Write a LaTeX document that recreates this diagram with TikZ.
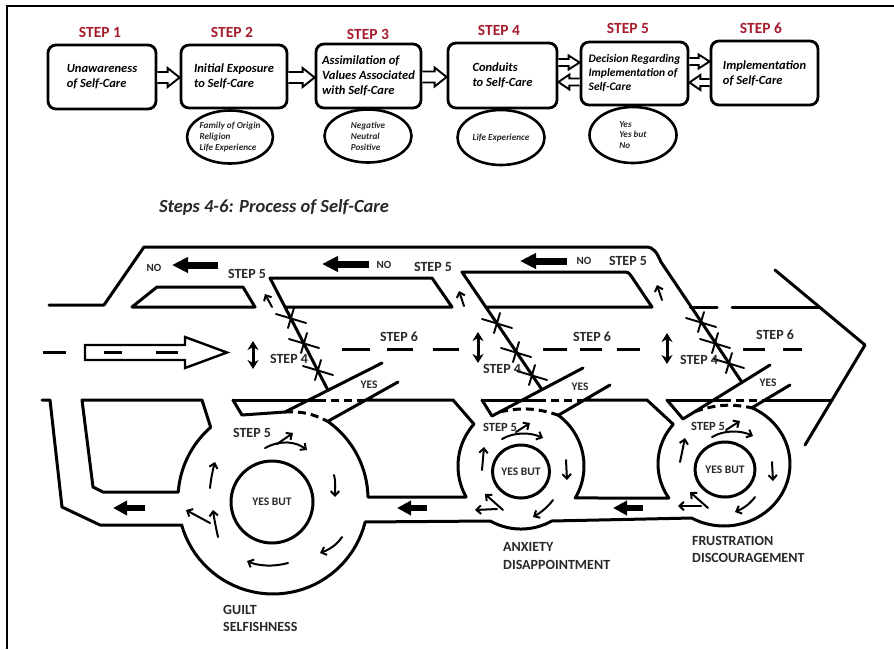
\documentclass[tikz,border=0pt]{standalone}
\usepackage{fontspec}
\setmainfont{Carlito}
\usetikzlibrary{arrows.meta,shapes.geometric,calc}
\definecolor{stepred}{RGB}{165,28,45}
\definecolor{ink}{RGB}{40,40,40}
\newcommand\harrR[6]{%
  \path (perpendicular cs: horizontal line through={(0,#3)}, vertical line through={(#1.east)}) coordinate (ha)
        (perpendicular cs: horizontal line through={(0,#3)}, vertical line through={(#2.west)}) coordinate (hb);
  \draw[hollow] ($(ha)+(0,-#4)$) -- ($(hb)+(-#6,-#4)$) -- ($(hb)+(-#6,-#5)$) -- (hb) -- ($(hb)+(-#6,#5)$) -- ($(hb)+(-#6,#4)$) -- ($(ha)+(0,#4)$);}
\newcommand\harrL[6]{%
  \path (perpendicular cs: horizontal line through={(0,#3)}, vertical line through={(#1.west)}) coordinate (ha)
        (perpendicular cs: horizontal line through={(0,#3)}, vertical line through={(#2.east)}) coordinate (hb);
  \draw[hollow] ($(ha)+(0,-#4)$) -- ($(hb)+(#6,-#4)$) -- ($(hb)+(#6,-#5)$) -- (hb) -- ($(hb)+(#6,#5)$) -- ($(hb)+(#6,#4)$) -- ($(ha)+(0,#4)$);}
\newcommand\xmk[2]{\draw[xm] (#1,#2) ++(-15,-4) -- ++(30,9) (#1,#2) ++(3,-10) -- ++(-6,20);}
\begin{document}
\begin{tikzpicture}[x=1pt,y=-1pt,
  box/.style={draw,line width=2.8pt,rounded corners=8pt,align=left,inner sep=0pt,font=\bfseries\itshape\fontsize{12.5}{15}\selectfont},
  ell/.style={draw,ellipse,line width=2.6pt,inner sep=0pt,align=left,font=\bfseries\itshape\fontsize{9.2}{10.8}\selectfont,text=ink},
  steplbl/.style={text=stepred,font=\bfseries\fontsize{15.5}{18}\selectfont,inner sep=0pt},
  hollow/.style={draw,line width=1.9pt,fill=white,line join=miter},
  road/.style={line width=3pt,line join=round,line cap=round},
  dashroad/.style={line width=3pt,dash pattern=on 8pt off 5pt},
  dashline/.style={line width=3pt},
  xm/.style={line width=1.9pt,line cap=round},
  lbl/.style={font=\bfseries\fontsize{14}{16}\selectfont,text=ink,inner sep=0pt},
  slbl/.style={font=\bfseries\fontsize{12.5}{15}\selectfont,text=ink,inner sep=0pt},
  nolbl/.style={font=\bfseries\fontsize{11}{13}\selectfont,text=ink,inner sep=0pt},
  feel/.style={font=\bfseries\fontsize{14}{17.5}\selectfont,text=ink,inner sep=0pt,align=left,anchor=north west},
  yesbut/.style={draw,ellipse,line width=3pt,inner sep=0pt,font=\bfseries\fontsize{11.5}{13}\selectfont,text=ink},
  bigarr/.style={line width=7pt,-{Triangle[length=16pt,width=15pt]}},
  bigarrS/.style={line width=6.5pt,-{Triangle[length=14pt,width=14pt]}},
  carr/.style={line width=2pt,line cap=round,-{Straight Barb[length=4.5pt,width=8.5pt]}},
  updown/.style={line width=3pt,{Stealth[length=9pt,width=11pt]}-{Stealth[length=9pt,width=11pt]}},
]
\useasboundingbox (0,0) rectangle (894,649);
\draw[line width=2.2pt] (7,649) -- (7,6) -- (894,6);

% ---------- top row ----------
\node[steplbl] (s1) at (100,32) {STEP 1};
\node[steplbl] (s2) at (232,32) {STEP 2};
\node[steplbl] (s3) at (368,34) {STEP 3};
\node[steplbl] (s4) at (499,30) {STEP 4};
\node[steplbl] (s5) at (628,28) {STEP 5};
\node[steplbl] (s6) at (761,28) {STEP 6};

\node[box,minimum width=108pt,minimum height=64pt] (b1) at (102,77) {Unawareness\\of Self-Care};
\node[box,minimum width=106pt,minimum height=63pt] (b2) at (234,76.5) {Initial Exposure\\to Self-Care};
\node[box,minimum width=105pt,minimum height=64pt] (b3) at (368.5,76) {Assimilation of\\Values Associated\\with Self-Care};
\node[box,minimum width=109pt,minimum height=65pt] (b4) at (502.5,75.5) {Conduits\\to Self-Care};
\node[box,minimum width=107pt,minimum height=63pt,font=\bfseries\itshape\fontsize{11.5}{14}\selectfont] (b5) at (634.5,73.5) {Decision Regarding\\Implementation of\\Self-Care};
\node[box,minimum width=107pt,minimum height=64pt] (b6) at (764.5,73) {Implementation\\of Self-Care};

\harrR{b1}{b2}{77.5}{5.5}{9.5}{12}
\harrR{b2}{b3}{77.5}{5.5}{9.5}{12}
\harrR{b3}{b4}{77}{5.5}{9.5}{12}
\harrR{b4}{b5}{62.5}{3.5}{7}{11}
\harrL{b5}{b4}{82}{3.5}{7.5}{11}
\harrR{b5}{b6}{61.5}{3.5}{7}{11}
\harrL{b6}{b5}{82.5}{3.5}{7.5}{11}

\node[ell,minimum width=83pt,minimum height=53pt] (e2) at (230,137) {Family of Origin\\Religion\\Life Experience};
\node[ell,minimum width=87pt,minimum height=53pt] (e3) at (368,136) {Negative\\Neutral\\Positive};
\node[ell,minimum width=87pt,minimum height=55pt] (e4) at (501,137.5) {Life Experience};
\node[ell,minimum width=87pt,minimum height=56pt] (e5) at (633,135) {Yes\\Yes but\\No};

\node[font=\bfseries\itshape\fontsize{18.5}{20}\selectfont,text=ink,inner sep=0pt] (title) at (274,207) {Steps 4-6: Process of Self-Care};

% ---------- upper road ----------
\draw[road] (49,305) -- (104,305) -- (144,247) -- (646,247) .. controls (654,247) and (657,253) .. (661,262) -- (742,382.4);
\draw[road] (132,307) -- (157,287) -- (243,287) -- (255,307) -- cycle;
\draw[road] (285,307) -- (452,307) -- (432,278) -- (270,278) -- (328,390.3);
\draw[road] (486,307) -- (652,307) -- (632.5,278) .. controls (628.5,272) .. (622,272) -- (462,272) -- (542,389.7);
\draw[road] (690.3,307) -- (717,307);
\draw[road] (732,307) -- (819.4,307);
\draw[road] (775,270) -- (865,345) -- (805,445);

% centre line and big hollow arrow
\draw[dashline] (43,352.5) -- (66,352.5);
\foreach \a/\b in {342/370,387/413,433/459,543/567,580/602,617/640,743/765,783/802}
  \draw[dashline] (\a,349) -- (\b,349);
\draw[line width=2.4pt,line join=miter] (85,345) -- (185,345) -- (185,337) -- (227,352.5) -- (185,368) -- (185,360) -- (85,360) -- cycle;
\draw[dashline] (104,352.5) -- (122,352.5);
\draw[dashline] (156,352.5) -- (178,352.5);

% crossing marks
\xmk{291}{318}\xmk{304}{343}\xmk{318}{370}
\xmk{497}{323}\xmk{516}{352}\xmk{532}{375}
\xmk{701}{322}\xmk{715}{343}\xmk{729}{363}

% small arrows up the ramps
\draw[carr] (272,307) -- (265,294);
\draw[carr] (464,306) -- (459,291);
\draw[carr] (662,300) -- (657,285);

% vertical double arrows
\draw[updown] (253,341) -- (253,369);
\draw[updown] (478,332) -- (478,363);
\draw[updown] (667,333) -- (667,364);

% NO arrows
\draw[bigarr] (218,265) -- (172,265);
\draw[bigarr] (369,264) -- (322,264);
\draw[bigarr] (567,261) -- (520,261);

% ---------- lower road ----------
\draw[road] (42,400) -- (50,400) -- (62,507) -- (100,525) -- (181.6,525)
  -- plot[domain=164.1:14,samples=40] ({273+95*cos(\x)},{499+95*sin(\x)})
  -- plot[domain=119.2:60.8,samples=30] ({521+63*cos(\x)},{466+63*sin(\x)})
  -- plot[domain=119.4:-65,samples=50] ({724+66*cos(\x)},{464+62*sin(\x)})
  -- (790,385);
\draw[road] (202,400) -- plot[domain=229:184.2,samples=20] ({273+95*cos(\x)},{499+95*sin(\x)})
  -- (103,492) -- (93,487) -- (82,400) -- cycle;
\draw[road] (398,382) -- plot[domain=-54.8:-1.2,samples=25] ({273+95*cos(\x)},{499+95*sin(\x)})
  -- plot[domain=150.5:221.7,samples=25] ({521+63*cos(\x)},{466+63*sin(\x)})
  -- (453,400) -- (365.9,400);
\draw[road] (610,385) -- plot[domain=-53.7:30.5,samples=25] ({521+63*cos(\x)},{466+63*sin(\x)})
  -- plot[domain=146.7:219.8,samples=25] ({724+66*cos(\x)},{464+62*sin(\x)})
  -- (647,400) -- (584.3,400);

% exit ramps (YES)
\draw[road] (233,400) -- (242,415) -- (285,412) -- (382,363);
\draw[road] (482,400) -- (492,416) -- (583,368);
\draw[road] (667,400) -- (683,419) -- (770,365);
\draw[road] (233,400) -- (318,400);
\draw[dashroad] (318,400) -- (365.9,400);
\draw[road] (482,400) -- (538,400);
\draw[dashroad] (538,400) -- (584.3,400);
\draw[road] (667,400) -- (723,400);
\draw[dashroad] (723,400) -- (764.9,400);
\draw[road] (764.9,400) -- (832,400);
\draw[dashroad] (285,412) to[bend left=15] (327.7,421.4);
\draw[dashroad] (500,411.8) to[bend left=15] (558.3,415.2);
\draw[dashroad] (695,411.6) to[bend left=15] (751.9,407.8);

% inner circles
\node[yesbut,minimum width=82pt,minimum height=82pt] (yb1) at (272,502) {YES BUT};
\node[yesbut,minimum width=57pt,minimum height=53pt] (yb2) at (521,471.5) {YES BUT};
\node[yesbut,minimum width=60pt,minimum height=55pt] (yb3) at (725,469.5) {YES BUT};

% roundabout arrows, circle 1
\draw[carr] (265,448) .. controls (280,440) and (295,441) .. (307,450);
\draw[carr] (277,444) -- (293,433);
\draw[carr] (334,475) .. controls (336,483) and (335,490) .. (335,497);
\draw[carr] (342,537) .. controls (336,546) and (328,550) .. (320,553);
\draw[carr] (288,563) .. controls (274,567) and (258,566) .. (247,561);
\draw[carr] (218,537) .. controls (216,528) and (214,518) .. (213,510);
\draw[carr] (210,523) -- (186,510);
\draw[carr] (210,488) .. controls (211,478) and (213,469) .. (215,462);
% circle 2
\draw[carr] (502,439) .. controls (514,432) and (530,432) .. (543,438);
\draw[carr] (516,432) -- (530,423);
\draw[carr] (566,460) -- (567,480);
\draw[carr] (553,500) .. controls (547,508) and (540,513) .. (533,517);
\draw[carr] (503,510) -- (485,494);
\draw[carr] (497,509) -- (475,510);
\draw[carr] (482,470) -- (484,447);
% circle 3
\draw[carr] (712,437) .. controls (724,430) and (740,430) .. (753,436);
\draw[carr] (726,430) -- (740,421);
\draw[carr] (772,462) -- (773,481);
\draw[carr] (755,497) .. controls (749,505) and (742,509) .. (735,512);
\draw[carr] (708,508) -- (690,492);
\draw[carr] (701,506) -- (678,506);
\draw[carr] (680,462) -- (685,438);

% lower road arrows
\draw[bigarrS] (145,508) -- (113,508);
\draw[bigarrS] (427,508) -- (397,508);
\draw[bigarrS] (643,508) -- (613,508);

% ---------- labels ----------
\node[nolbl] (no1) at (154,268) {NO};
\node[nolbl] (no2) at (384,265) {NO};
\node[nolbl] (no3) at (584,261) {NO};
\node[lbl] (u5a) at (247,274) {STEP 5};
\node[lbl] (u5b) at (433,267) {STEP 5};
\node[lbl] (u5c) at (628,261) {STEP 5};
\node[lbl] (u6a) at (399,337) {STEP 6};
\node[lbl] (u6b) at (592,337) {STEP 6};
\node[lbl] (u6c) at (775,335) {STEP 6};
\node[lbl] (u4a) at (289,359) {STEP 4};
\node[lbl] (u4b) at (502,369) {STEP 4};
\node[lbl] (u4c) at (699,360) {STEP 4};
\node[nolbl,font=\bfseries\fontsize{11.5}{13}\selectfont] (y1) at (369,385) {YES};
\node[nolbl,font=\bfseries\fontsize{11.5}{13}\selectfont] (y2) at (580,387) {YES};
\node[nolbl,font=\bfseries\fontsize{11.5}{13}\selectfont] (y3) at (768,383) {YES};
\node[lbl] (c5a) at (252,433) {STEP 5};
\node[slbl] (c5b) at (500,427) {STEP 5};
\node[slbl] (c5c) at (708,426) {STEP 5};
\node[feel] (f1) at (223,605) {GUILT\\SELFISHNESS};
\node[feel] (f2) at (503,542.5) {ANXIETY\\DISAPPOINTMENT};
\node[feel] (f3) at (692,536) {FRUSTRATION\\DISCOURAGEMENT};
\end{tikzpicture}
\end{document}
